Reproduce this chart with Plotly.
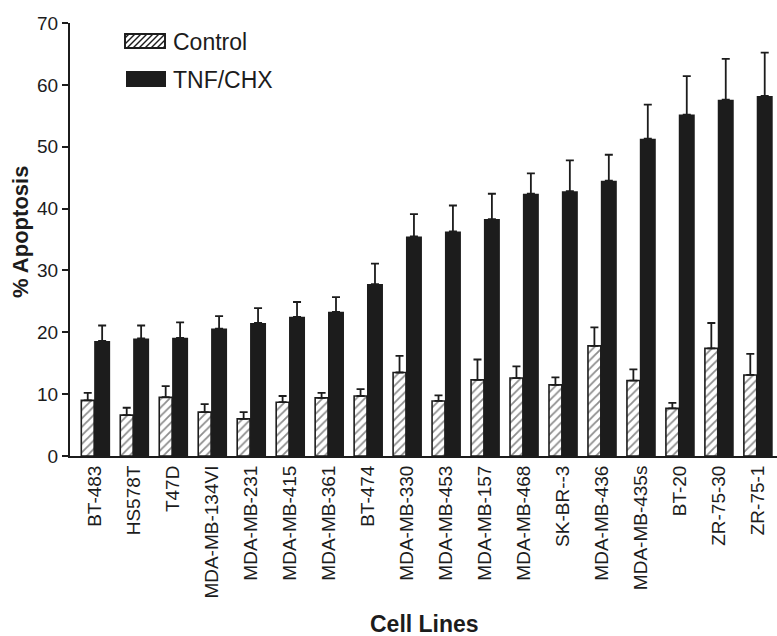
import plotly.graph_objects as go

cell_lines = ["BT-483", "HS578T", "T47D", "MDA-MB-134VI", "MDA-MB-231", "MDA-MB-415",
              "MDA-MB-361", "BT-474", "MDA-MB-330", "MDA-MB-453", "MDA-MB-157", "MDA-MB-468",
              "SK-BR--3", "MDA-MB-436", "MDA-MB-435s", "BT-20", "ZR-75-30", "ZR-75-1"]
control = [9.0, 6.6, 9.5, 7.1, 6.0, 8.7, 9.4, 9.7, 13.5, 8.9, 12.3, 12.6, 11.5, 17.8, 12.2, 7.7, 17.4, 13.1]
control_err = [1.2, 1.2, 1.8, 1.3, 1.1, 1.0, 0.8, 1.1, 2.7, 0.9, 3.3, 1.9, 1.2, 3.0, 1.8, 0.9, 4.1, 3.4]
tnf = [18.6, 19.0, 19.1, 20.6, 21.5, 22.5, 23.3, 27.8, 35.5, 36.3, 38.3, 42.4, 42.8, 44.5, 51.3, 55.2, 57.6, 58.2]
tnf_err = [2.5, 2.1, 2.5, 2.0, 2.4, 2.4, 2.4, 3.3, 3.6, 4.2, 4.1, 3.3, 5.0, 4.2, 5.5, 6.2, 6.6, 7.0]

x = list(range(len(cell_lines)))
font = "Liberation Sans, Arial, sans-serif"
ink = "#1c1c1c"

W, H = 777, 636
ML, MR, MT, MB = 70, 0, 23, 180
PW, PH = W - ML - MR, H - MT - MB


def px(xp):
    return (xp - ML) / PW


def py(yp):
    return (H - MB - yp) / PH


fig = go.Figure()
fig.add_trace(go.Bar(
    x=x, y=control, name="Control", showlegend=False,
    width=0.33, offset=-0.35,
    marker=dict(color="white", line=dict(color=ink, width=1.6),
                pattern=dict(shape="/", fgcolor=ink, bgcolor="white", size=6, solidity=0.3)),
    error_y=dict(type="data", array=control_err, arrayminus=[0] * len(control_err),
                 symmetric=False, color=ink, thickness=1.8, width=4),
))
fig.add_trace(go.Bar(
    x=x, y=tnf, name="TNF/CHX", showlegend=False,
    width=0.41, offset=-0.02,
    marker=dict(color=ink, line=dict(color=ink, width=0)),
    error_y=dict(type="data", array=tnf_err, arrayminus=[0] * len(tnf_err),
                 symmetric=False, color=ink, thickness=1.8, width=4),
))

# custom legend (pixel-placed swatches)
shapes = []
sx0, sx1, sy0, sy1 = 125, 165, 34, 48
shapes.append(dict(type="rect", xref="paper", yref="paper",
                   x0=px(sx0), x1=px(sx1), y0=py(sy1), y1=py(sy0),
                   fillcolor="white", line=dict(color=ink, width=1.5), layer="above"))
k = sx0 + sy0 + 4
while k < sx1 + sy1:
    xa = max(sx0, k - sy1)
    xb = min(sx1, k - sy0)
    if xb > xa:
        shapes.append(dict(type="line", xref="paper", yref="paper",
                           x0=px(xa), y0=py(k - xa), x1=px(xb), y1=py(k - xb),
                           line=dict(color=ink, width=1.4), layer="above"))
    k += 6
shapes.append(dict(type="rect", xref="paper", yref="paper",
                   x0=px(sx0), x1=px(sx1), y0=py(sy1), y1=py(sy0),
                   fillcolor="rgba(0,0,0,0)", line=dict(color=ink, width=1.8), layer="above"))
shapes.append(dict(type="rect", xref="paper", yref="paper",
                   x0=px(126), x1=px(166), y0=py(87), y1=py(71),
                   fillcolor=ink, line=dict(color=ink, width=0), layer="above"))

annotations = [
    dict(text="Control", xref="paper", yref="paper", x=px(171), y=py(42),
         xanchor="left", yanchor="middle", showarrow=False, font=dict(size=23, family=font, color=ink)),
    dict(text="TNF/CHX", xref="paper", yref="paper", x=px(171), y=py(80),
         xanchor="left", yanchor="middle", showarrow=False, font=dict(size=23, family=font, color=ink)),
    dict(text="<b>% Apoptosis</b>", xref="paper", yref="paper", x=px(21), y=py(232),
         xanchor="center", yanchor="middle", textangle=-90, showarrow=False,
         font=dict(size=22, family=font, color=ink)),
    dict(text="<b>Cell Lines</b>", xref="paper", yref="paper", x=px(424), y=py(624),
         xanchor="center", yanchor="middle", showarrow=False,
         font=dict(size=23, family=font, color=ink)),
]

fig.update_layout(
    width=W, height=H,
    margin=dict(l=ML, r=MR, t=MT, b=MB, autoexpand=False),
    paper_bgcolor="white", plot_bgcolor="white",
    font=dict(family=font, color=ink),
    showlegend=False,
    shapes=shapes, annotations=annotations,
    xaxis=dict(
        tickmode="array", tickvals=x, ticktext=cell_lines, tickangle=-90,
        range=[-0.64, 17.5], showline=True, linecolor=ink, linewidth=2,
        ticks="", tickfont=dict(size=19), showgrid=False, zeroline=False,
        automargin=False,
    ),
    yaxis=dict(
        range=[0, 70], dtick=10, showline=True, linecolor=ink, linewidth=2,
        ticks="outside", ticklen=6, tickwidth=2, tickcolor=ink,
        tickfont=dict(size=19), showgrid=False, zeroline=False,
        automargin=False,
    ),
)

fig.write_html("out.html", config={"displayModeBar": False},
               post_script="document.body.style.margin='0px';")
